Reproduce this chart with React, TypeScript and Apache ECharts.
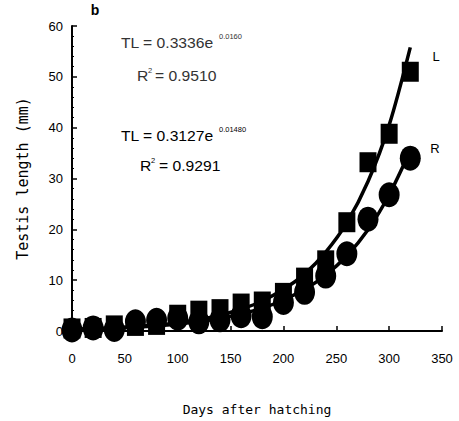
import React, { useEffect, useRef } from "react";
import * as echarts from "echarts";

const days = [0, 20, 40, 60, 80, 100, 120, 140, 160, 180, 200, 220, 240, 260, 280, 300, 320];
const leftTestis = [0.5, 0.6, 1.1, 1.0, 1.2, 3.2, 4.0, 4.3, 5.4, 5.8, 7.5, 10.5, 13.9, 21.4, 33.2, 38.8, 51.0];
const rightTestis = [0.2, 0.6, 0.3, 1.8, 2.1, 2.5, 1.8, 2.2, 3.0, 2.8, 5.6, 7.6, 10.8, 15.2, 22.0, 26.8, 34.0];
const leftFit = [0.33, 0.46, 0.63, 0.87, 1.2, 1.65, 2.27, 3.13, 4.3, 5.9, 8.2, 11.2, 15.5, 21.3, 29.4, 40.5, 55.8];
const rightFit = [0.31, 0.42, 0.56, 0.76, 1.02, 1.38, 1.85, 2.49, 3.36, 4.5, 6.1, 8.2, 11.0, 14.8, 19.9, 26.8, 35.5];
const xTicks = { min: 0, max: 350, interval: 50 };
const yTicks = { min: 0, max: 60, interval: 10 };

const pairs = (vals: number[]) => days.map((d, i) => [d, vals[i]]);

const eqFont = "'Liberation Sans', Arial, sans-serif";

export default function App() {
  const ref = useRef<HTMLDivElement>(null);
  useEffect(() => {
    document.body.style.margin = "0";
    const chart = echarts.init(ref.current!, null, { renderer: "svg" });
    const sx = 1.12;
    const txt = (x: number, y: number, text: string, size: number, color: string, scale = 1) => ({
      type: "text",
      x,
      y,
      scaleX: scale,
      style: {
        text,
        fontSize: size,
        fontFamily: eqFont,
        fill: color,
        textAlign: "left",
        textVerticalAlign: "middle",
      },
      z: 100,
    });
    chart.setOption({
      animation: false,
      backgroundColor: "#fff",
      grid: { left: 72, right: 17, top: 26, bottom: 90, containLabel: false },
      xAxis: {
        type: "value",
        ...xTicks,
        name: "Days after hatching",
        nameLocation: "middle",
        nameGap: 72,
        nameTextStyle: { fontFamily: "'DejaVu Sans Mono', monospace", fontSize: 13, color: "#000" },
        axisLine: { show: true, lineStyle: { color: "#000", width: 2 } },
        axisTick: { show: true, inside: true, length: 5, lineStyle: { color: "#000", width: 1.5 } },
        axisLabel: { margin: 21, fontFamily: "'Liberation Sans', Arial, sans-serif", fontSize: 13, color: "#000" },
        splitLine: { show: false },
      },
      yAxis: {
        type: "value",
        ...yTicks,
        name: "Testis length (mm)",
        nameLocation: "middle",
        nameGap: 42,
        nameTextStyle: { fontFamily: "'DejaVu Sans Mono', monospace", fontSize: 15, color: "#000" },
        axisLine: { show: true, lineStyle: { color: "#000", width: 2 } },
        axisTick: { show: true, inside: true, length: 5, lineStyle: { color: "#000", width: 1.5 } },
        minorTick: { show: true, splitNumber: 5, length: 2, lineStyle: { color: "#000", width: 1 } },
        axisLabel: { margin: 9, fontFamily: "'Liberation Sans', Arial, sans-serif", fontSize: 13, color: "#000" },
        splitLine: { show: false },
      },
      series: [
        {
          type: "scatter",
          data: pairs(leftTestis),
          symbol: "rect",
          symbolSize: [17, 20],
          itemStyle: { color: "#000", opacity: 1 },
          z: 2,
        },
        {
          type: "scatter",
          data: pairs(rightTestis),
          symbol: "circle",
          symbolSize: [21, 25],
          itemStyle: { color: "#000", opacity: 1 },
          z: 2,
        },
        {
          type: "line",
          data: pairs(leftFit),
          smooth: 0.3,
          showSymbol: false,
          lineStyle: { color: "#000", width: 3.5 },
          z: 3,
        },
        {
          type: "line",
          data: pairs(rightFit),
          smooth: 0.3,
          showSymbol: false,
          lineStyle: { color: "#000", width: 3.5 },
          z: 3,
        },
      ],
      graphic: [
        {
          type: "text",
          x: 95,
          y: 10,
          style: { text: "b", fontSize: 14, fontWeight: "bold", fontFamily: "'Liberation Sans', Arial, sans-serif", fill: "#000", textAlign: "center", textVerticalAlign: "middle" },
        },
        txt(121, 43, "TL = 0.3336e", 14, "#333", sx),
        txt(219, 36, "0.0160", 7.5, "#333"),
        txt(137, 76, "R", 14, "#333", sx),
        txt(148, 70, "2", 7.5, "#333"),
        txt(155, 76, "= 0.9510", 14, "#333", sx),
        txt(121, 136, "TL = 0.3127e", 14, "#000", sx),
        txt(219, 129, "0.01480", 7.5, "#000"),
        txt(140, 166, "R", 14, "#000", sx),
        txt(151, 160, "2", 7.5, "#000"),
        txt(159, 166, "= 0.9291", 14, "#000", sx),
        {
          type: "text",
          x: 436,
          y: 56,
          style: { text: "L", fontSize: 13, fontFamily: "'Liberation Sans', Arial, sans-serif", fill: "#000", textAlign: "center", textVerticalAlign: "middle" },
        },
        {
          type: "text",
          x: 435,
          y: 148,
          style: { text: "R", fontSize: 13, fontFamily: "'Liberation Sans', Arial, sans-serif", fill: "#000", textAlign: "center", textVerticalAlign: "middle" },
        },
      ],
    });
    return () => chart.dispose();
  }, []);
  return <div ref={ref} style={{ width: 459, height: 421 }} />;
}
